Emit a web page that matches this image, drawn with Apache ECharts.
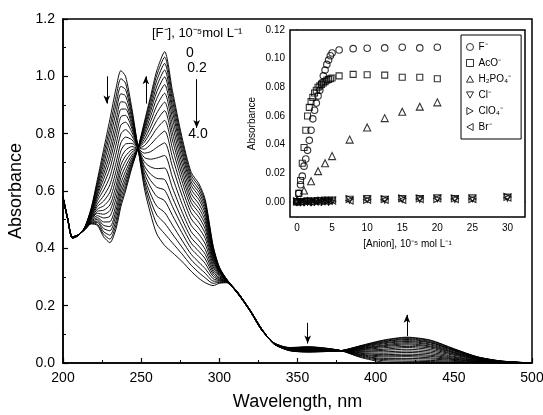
<!DOCTYPE html>
<html><head><meta charset="utf-8">
<script src="https://cdn.jsdelivr.net/npm/echarts@6/dist/echarts.min.js"></script>
<style>html,body{margin:0;padding:0;background:#fff}#c{width:543px;height:415px}</style>
</head><body><div id="c"></div>
<script>
// ---------- main spectra ----------
const wavelengths = [200,203,206,210,214,218,222,226,230,234,237,240,244,248,252,256,260,265,270,276,282,287,291,296,300,305,312,320,327,335,345,357,368,378,390,405,420,435,450,465,480,500];
const fluorideConc = [0,0.2,0.4,0.6,0.8,1.0,1.2,1.4,1.6,1.8,2.0,2.2,2.4,2.6,2.8,3.0,3.2,3.4,3.6,3.8,4.0];
// one row per wavelength, one column per [F-] concentration
const absorbance = [
[.575,.575,.576,.576,.576,.576,.577,.577,.577,.578,.578,.578,.578,.579,.579,.579,.579,.580,.580,.580,.580],
[.500,.500,.501,.501,.501,.501,.502,.502,.502,.503,.503,.503,.503,.504,.504,.504,.504,.505,.505,.505,.505],
[.435,.435,.436,.436,.436,.436,.437,.437,.437,.438,.438,.438,.438,.439,.439,.439,.439,.440,.440,.440,.440],
[.445,.445,.445,.446,.446,.446,.446,.446,.446,.447,.447,.447,.447,.447,.447,.447,.448,.448,.448,.448,.448],
[.475,.474,.474,.473,.473,.472,.472,.471,.470,.470,.469,.469,.468,.468,.467,.467,.466,.466,.466,.465,.465],
[.540,.537,.534,.531,.527,.524,.521,.518,.514,.511,.508,.505,.502,.499,.497,.494,.492,.490,.488,.487,.485],
[.640,.630,.622,.613,.603,.594,.586,.576,.566,.555,.546,.537,.529,.522,.514,.507,.501,.495,.490,.484,.480],
[.745,.727,.710,.693,.675,.658,.641,.623,.603,.583,.565,.548,.533,.519,.506,.492,.480,.469,.458,.449,.440],
[.850,.824,.801,.777,.751,.727,.704,.678,.650,.622,.596,.573,.551,.532,.512,.493,.476,.461,.446,.432,.420],
[.960,.931,.904,.877,.847,.820,.793,.764,.732,.700,.671,.644,.619,.597,.575,.553,.534,.517,.499,.484,.470],
[1.020,.992,.965,.939,.911,.885,.859,.830,.799,.768,.740,.714,.690,.669,.647,.626,.607,.590,.574,.558,.545],
[1.000,.976,.954,.932,.908,.886,.864,.840,.814,.788,.764,.742,.722,.704,.686,.668,.652,.638,.624,.611,.600],
[.890,.877,.866,.854,.842,.830,.819,.806,.792,.779,.766,.755,.744,.735,.725,.716,.707,.700,.693,.686,.680],
[.750,.750,.750,.750,.750,.750,.750,.750,.750,.750,.750,.750,.750,.750,.750,.750,.750,.750,.750,.750,.750],
[.610,.624,.637,.649,.663,.676,.688,.702,.717,.732,.746,.758,.770,.780,.791,.801,.810,.818,.826,.834,.840],
[.520,.545,.567,.590,.614,.637,.659,.684,.711,.737,.762,.785,.805,.823,.842,.860,.877,.891,.905,.919,.930],
[.450,.484,.516,.547,.581,.613,.644,.678,.715,.752,.786,.818,.846,.872,.898,.923,.946,.966,.986,1.004,1.020],
[.410,.451,.488,.525,.566,.603,.640,.680,.724,.768,.809,.846,.880,.910,.941,.971,.998,1.022,1.045,1.067,1.086],
[.385,.419,.450,.481,.515,.546,.577,.611,.648,.685,.718,.749,.778,.803,.829,.854,.877,.896,.916,.934,.950],
[.355,.381,.405,.429,.455,.479,.503,.529,.557,.586,.612,.636,.657,.677,.697,.716,.734,.749,.764,.778,.790],
[.320,.341,.360,.379,.399,.418,.437,.458,.480,.503,.524,.543,.560,.575,.591,.606,.620,.632,.644,.655,.665],
[.295,.315,.333,.351,.371,.389,.407,.427,.449,.470,.490,.508,.524,.539,.554,.569,.582,.594,.605,.616,.625],
[.280,.297,.313,.329,.347,.363,.379,.396,.415,.434,.451,.467,.482,.495,.508,.521,.532,.543,.553,.562,.570],
[.270,.278,.286,.294,.302,.310,.318,.326,.335,.344,.353,.360,.367,.374,.380,.386,.392,.397,.402,.406,.410],
[.278,.281,.285,.288,.291,.294,.297,.301,.305,.308,.312,.315,.318,.320,.323,.325,.328,.330,.332,.333,.335],
[.280,.281,.281,.282,.282,.283,.283,.284,.285,.285,.286,.286,.287,.287,.288,.288,.289,.289,.289,.290,.290],
[.240,.240,.241,.241,.241,.241,.242,.242,.242,.243,.243,.243,.243,.244,.244,.244,.244,.245,.245,.245,.245],
[.178,.178,.178,.179,.179,.179,.179,.180,.180,.180,.180,.181,.181,.181,.181,.181,.181,.182,.182,.182,.182],
[.115,.115,.116,.116,.116,.116,.117,.117,.117,.118,.118,.118,.118,.119,.119,.119,.119,.120,.120,.120,.120],
[.070,.070,.070,.069,.069,.069,.069,.068,.068,.068,.068,.067,.067,.067,.067,.067,.066,.066,.066,.066,.066],
[.054,.053,.053,.052,.051,.051,.050,.050,.049,.048,.047,.047,.046,.046,.045,.045,.044,.044,.044,.043,.043],
[.057,.056,.055,.054,.053,.052,.051,.049,.048,.047,.046,.045,.044,.043,.042,.041,.041,.040,.039,.039,.038],
[.052,.051,.051,.050,.049,.049,.048,.047,.046,.046,.045,.044,.044,.043,.043,.042,.042,.041,.041,.040,.040],
[.043,.043,.043,.043,.043,.043,.043,.043,.043,.043,.043,.043,.043,.043,.043,.043,.043,.043,.043,.043,.043],
[.020,.022,.025,.027,.029,.031,.034,.036,.039,.041,.044,.046,.048,.050,.051,.053,.055,.056,.058,.059,.060],
[.003,.008,.012,.016,.021,.025,.029,.034,.039,.044,.048,.053,.057,.060,.063,.067,.070,.073,.075,.078,.080],
[.001,.006,.011,.016,.022,.026,.031,.037,.042,.048,.054,.058,.063,.067,.071,.075,.078,.082,.085,.088,.090],
[0,.005,.009,.014,.018,.023,.027,.032,.037,.042,.047,.052,.056,.059,.063,.066,.070,.072,.075,.078,.080],
[0,.003,.006,.009,.012,.014,.017,.020,.023,.027,.030,.032,.035,.037,.039,.042,.044,.045,.047,.049,.050],
[0,.001,.003,.004,.005,.006,.008,.009,.010,.012,.013,.014,.015,.016,.017,.018,.019,.020,.021,.021,.022],
[0,0,.001,.001,.002,.002,.002,.003,.003,.004,.004,.005,.005,.005,.005,.006,.006,.006,.007,.007,.007],
[0,0,0,0,0,0,0,0,0,0,0,0,0,0,0,0,0,0,0,0,0]
];
// arrows in the main panel: [wavelength, from A, to A]
const arrowMarks = [[228,1.0,0.905],[253,0.905,1.0],[285.5,0.99,0.82],[356.5,0.14,0.068],[420,0.094,0.168]];

// ---------- inset titration data ----------
const fluorideX = [0,0.25,0.5,0.75,1,1.25,1.5,1.75,2,2.25,2.5,2.75,3,3.25,3.5,3.75,4,4.25,4.5,4.75,5,6,8,10,12.5,15,17.5,20];
const fluorideY = [0,0.006,0.012,0.018,0.025,0.030,0.036,0.043,0.050,0.058,0.064,0.069,0.074,0.078,0.083,0.088,0.092,0.096,0.099,0.102,0.104,0.106,0.107,0.1073,0.1075,0.108,0.1075,0.108];
const acetateX = [0,0.25,0.5,0.75,1,1.25,1.5,1.75,2,2.25,2.5,2.75,3,3.25,3.5,3.75,4,4.25,4.5,4.75,5,6,8,10,12.5,15,17.5,20];
const acetateY = [0,0.006,0.015,0.027,0.038,0.050,0.060,0.066,0.070,0.073,0.076,0.078,0.080,0.081,0.082,0.083,0.084,0.085,0.0855,0.086,0.0865,0.088,0.089,0.0888,0.0885,0.087,0.087,0.086];
const phosphateX = [0,1,2,3,4,5,7.5,10,12.5,15,17.5,20];
const phosphateY = [0.001,0.008,0.0145,0.0215,0.027,0.032,0.0435,0.052,0.0585,0.063,0.0665,0.0695];
const otherX = [0,0.5,1,1.5,2,2.5,3,3.5,4,4.5,5,7.5,10,12.5,15,17.5,20,22.5,25,30];
const chlorideY = [0,0,0,0.0005,0,0.0005,0.0005,0.0005,0.001,0.0005,0.001,0.0015,0.002,0.0015,0.002,0.002,0.0025,0.002,0.0025,0.003];
const perchlorateY = [0.0005,0.0005,0,0,0.0005,0,0.0005,0.001,0.0005,0.001,0.0005,0.002,0.0015,0.002,0.0025,0.0025,0.002,0.0025,0.002,0.0035];
const bromideY = [0,0,0.0005,0,0,0.0005,0,0.0005,0.0005,0.001,0.001,0.001,0.0015,0.0015,0.0015,0.002,0.0025,0.002,0.002,0.003];
const anionNames = ['F⁻','AcO⁻','H₂PO₄⁻','Cl⁻','ClO₄⁻','Br⁻'];
const insetXTicks = [0,5,10,15,20,25,30];
const insetXMinor = [2.5,7.5,12.5,17.5,22.5,27.5];
const insetYTicks = [0,0.02,0.04,0.06,0.08,0.10,0.12];
const insetYMinor = [0.01,0.03,0.05,0.07,0.09,0.11];

const FONT = '"Liberation Sans", Arial, sans-serif';
const zip = (xs, ys) => xs.map((x, i) => [x, ys[i]]);
const chart = echarts.init(document.getElementById('c'), null, {renderer: 'canvas'});

const spectra = fluorideConc.map((c, k) => ({
  type: 'line', name: 'F ' + c, xAxisIndex: 0, yAxisIndex: 0,
  data: wavelengths.map((w, i) => [w, absorbance[i][k]]),
  showSymbol: false, symbol: 'none', smooth: 0.25, silent: true,
  lineStyle: {color: '#000', width: 0.95}, z: 2
}));
spectra[0].markLine = {
  silent: true, animation: false, symbol: ['none', 'arrow'], symbolSize: [5, 8],
  lineStyle: {color: '#000', width: 1, type: 'solid'}, label: {show: false},
  data: arrowMarks.map(a => [{coord: [a[0], a[1]]}, {coord: [a[0], a[2]]}])
};

const hollow = {color: 'rgba(255,255,255,0)', borderColor: '#000', borderWidth: 1.1};
const insetSeries = [
  {name: anionNames[0], data: zip(fluorideX, fluorideY), symbol: 'circle', symbolSize: 6.5},
  {name: anionNames[1], data: zip(acetateX, acetateY), symbol: 'rect', symbolSize: 6},
  {name: anionNames[2], data: zip(phosphateX, phosphateY), symbol: 'triangle', symbolSize: 7},
  {name: anionNames[3], data: zip(otherX, chlorideY), symbol: 'triangle', symbolSize: 7, symbolRotate: 180},
  {name: anionNames[4], data: zip(otherX, perchlorateY), symbol: 'triangle', symbolSize: 7, symbolRotate: -90},
  {name: anionNames[5], data: zip(otherX, bromideY), symbol: 'triangle', symbolSize: 7, symbolRotate: 90}
].map(s => Object.assign({type: 'scatter', xAxisIndex: 1, yAxisIndex: 1, itemStyle: hollow, z: 10, silent: true}, s));

const legendIcons = ['circle', 'rect', 'path://M5,0 L10,9 L0,9 Z', 'path://M0,0 L10,0 L5,9 Z', 'path://M0,0 L9,5 L0,10 Z', 'path://M9,0 L0,5 L9,10 Z'];

const axisLine = {show: true, lineStyle: {color: '#000', width: 1.5}};
chart.setOption({
  animation: false,
  backgroundColor: '#fff',
  grid: [
    {left: 63, right: 11, top: 19, bottom: 52, show: true, borderColor: '#000', borderWidth: 1.5, outerBoundsMode: 'none', containLabel: false},
    {left: 290, right: 18, top: 30, bottom: 198, show: true, borderColor: '#000', borderWidth: 1.5, backgroundColor: '#fff', outerBoundsMode: 'none', containLabel: false, z: 5}
  ],
  xAxis: [
    {gridIndex: 0, type: 'value', min: 200, max: 500, interval: 50, axisLine,
     axisTick: {inside: true, length: 5, lineStyle: {color: '#000', width: 1.2}},
     minorTick: {show: true, splitNumber: 2, length: 3, lineStyle: {color: '#000', width: 1}},
     splitLine: {show: false}, minorSplitLine: {show: false},
     axisLabel: {color: '#000', fontSize: 14, fontFamily: FONT, margin: 8},
     name: 'Wavelength, nm', nameLocation: 'middle', nameGap: 30,
     nameTextStyle: {fontSize: 18, color: '#000', fontFamily: FONT}},
    {gridIndex: 1, type: 'value', min: -1, max: 32.5, axisLine,
     axisTick: {inside: true, length: 4, customValues: insetXTicks, lineStyle: {color: '#000', width: 1}},
     axisLabel: {customValues: insetXTicks, color: '#000', fontSize: 10, fontFamily: FONT, margin: 6},
     splitLine: {show: false},
     name: '[Anion], 10⁻⁵ mol L⁻¹', nameLocation: 'middle', nameGap: 22,
     nameTextStyle: {fontSize: 10, color: '#000', fontFamily: FONT}},
    {gridIndex: 1, type: 'value', min: -1, max: 32.5, position: 'bottom', axisLine: {show: false},
     axisTick: {inside: true, length: 2.5, customValues: insetXMinor, lineStyle: {color: '#000', width: 1}},
     axisLabel: {show: false}, splitLine: {show: false}}
  ],
  yAxis: [
    {gridIndex: 0, type: 'value', min: 0, max: 1.2, interval: 0.2, axisLine,
     axisTick: {inside: true, length: 5, lineStyle: {color: '#000', width: 1.2}},
     minorTick: {show: true, splitNumber: 2, length: 3, lineStyle: {color: '#000', width: 1}},
     splitLine: {show: false}, minorSplitLine: {show: false},
     axisLabel: {color: '#000', fontSize: 14, fontFamily: FONT, margin: 8, formatter: v => v.toFixed(1)},
     name: 'Absorbance', nameLocation: 'middle', nameGap: 36,
     nameTextStyle: {fontSize: 18, color: '#000', fontFamily: FONT}},
    {gridIndex: 1, type: 'value', min: -0.0105, max: 0.12, axisLine,
     axisTick: {inside: true, length: 4, customValues: insetYTicks, lineStyle: {color: '#000', width: 1}},
     axisLabel: {customValues: insetYTicks, color: '#000', fontSize: 10, fontFamily: FONT, margin: 5, formatter: v => v.toFixed(2)},
     splitLine: {show: false},
     name: 'Absorbance', nameLocation: 'middle', nameGap: 33,
     nameTextStyle: {fontSize: 10, color: '#000', fontFamily: FONT}},
    {gridIndex: 1, type: 'value', min: -0.0105, max: 0.12, position: 'left', axisLine: {show: false},
     axisTick: {inside: true, length: 2.5, customValues: insetYMinor, lineStyle: {color: '#000', width: 1}},
     axisLabel: {show: false}, splitLine: {show: false}}
  ],
  legend: {
    data: anionNames.map((n, i) => ({name: n, icon: legendIcons[i]})),
    orient: 'vertical', left: 461, top: 35,
    itemWidth: 7, itemHeight: 7, itemGap: 4, padding: [6, 10, 6, 5],
    borderColor: '#000', borderWidth: 1, backgroundColor: '#fff', selectedMode: false, z: 12,
    itemStyle: {color: 'rgba(255,255,255,0)', borderColor: '#000', borderWidth: 1},
    textStyle: {fontSize: 10, lineHeight: 12, color: '#000', fontFamily: FONT}
  },
  graphic: [
    {type: 'text', left: 152, top: 27, z: 20, style: {text: '[F⁻], 10⁻⁵mol L⁻¹', fontSize: 13, fontFamily: FONT, fill: '#000'}},
    {type: 'text', x: 190, y: 53, z: 20, style: {text: '0', fontSize: 14, fontFamily: FONT, fill: '#000', align: 'center', verticalAlign: 'middle'}},
    {type: 'text', x: 197, y: 68, z: 20, style: {text: '0.2', fontSize: 14, fontFamily: FONT, fill: '#000', align: 'center', verticalAlign: 'middle'}},
    {type: 'text', x: 198, y: 134, z: 20, style: {text: '4.0', fontSize: 14, fontFamily: FONT, fill: '#000', align: 'center', verticalAlign: 'middle'}}
  ],
  series: spectra.concat(insetSeries)
});
</script></body></html>
